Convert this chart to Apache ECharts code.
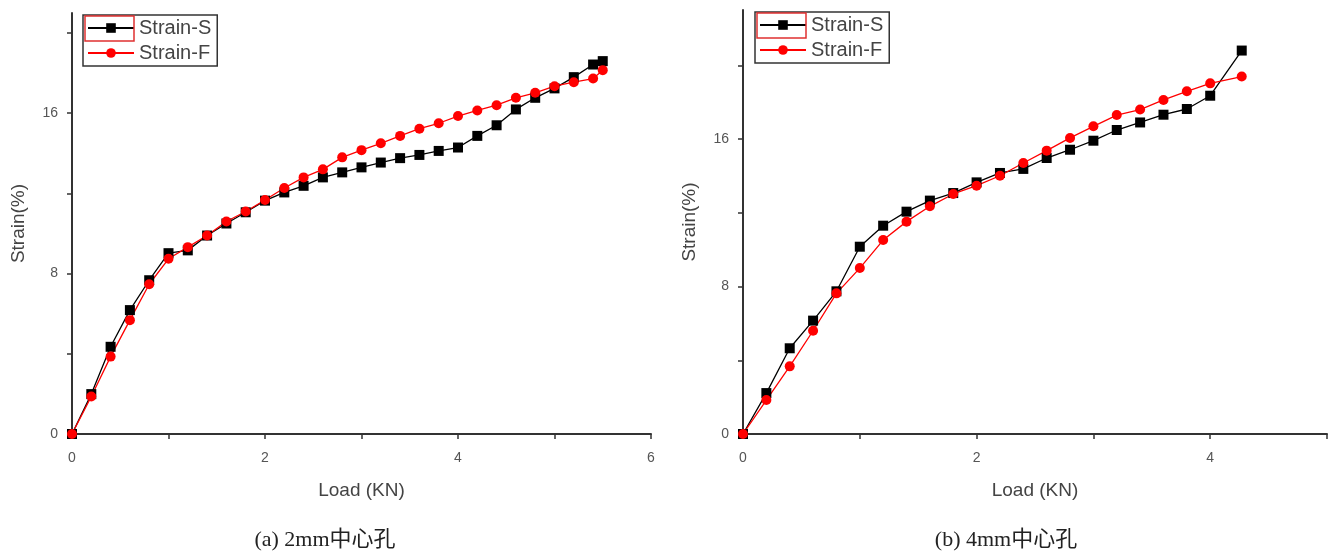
<!DOCTYPE html>
<html>
<head>
<meta charset="utf-8">
<script src="https://cdn.jsdelivr.net/npm/echarts@6/dist/echarts.min.js"></script>
<style>
html,body{margin:0;padding:0;background:#fff;}
#c{width:1335px;height:552px;}
</style>
</head>
<body>
<div id="c"></div>
<script>
// Panel (a) 2mm center hole
const loadA = [0,0.2,0.4,0.6,0.8,1.0,1.2,1.4,1.6,1.8,2.0,2.2,2.4,2.6,2.8,3.0,3.2,3.4,3.6,3.8,4.0,4.2,4.4,4.6,4.8,5.0,5.2,5.4,5.5];
const strainS_A = [0,1.99,4.35,6.18,7.67,9.02,9.16,9.9,10.5,11.06,11.64,12.05,12.38,12.8,13.05,13.3,13.54,13.76,13.92,14.12,14.29,14.87,15.4,16.19,16.77,17.24,17.8,18.43,18.6];
const strainF_A = [0,1.87,3.86,5.68,7.47,8.74,9.32,9.9,10.6,11.1,11.67,12.27,12.8,13.2,13.8,14.16,14.5,14.87,15.23,15.5,15.86,16.14,16.4,16.77,17.02,17.35,17.55,17.73,18.15];
// Panel (b) 4mm center hole
const loadB = [0,0.2,0.4,0.6,0.8,1.0,1.2,1.4,1.6,1.8,2.0,2.2,2.4,2.6,2.8,3.0,3.2,3.4,3.6,3.8,4.0,4.27];
const strainS_B = [0,2.22,4.65,6.15,7.74,10.16,11.3,12.06,12.66,13.07,13.65,14.16,14.38,14.97,15.42,15.91,16.49,16.9,17.32,17.63,18.35,20.8];
const strainF_B = [0,1.84,3.67,5.6,7.63,9.0,10.52,11.52,12.35,13.02,13.47,14.01,14.7,15.37,16.06,16.69,17.3,17.6,18.12,18.59,19.02,19.39];

const xTicksA = [0,1,2,3,4,5,6];
const xLabelsA = [0,2,4,6];
const xTicksB = [0,1,2,3,4,5];
const xLabelsB = [0,2,4];
const yTicks = [0,4,8,12,16,20];
const yLabels = [0,8,16];

const seriesNames = ['Strain-S','Strain-F'];
const captions = ['(a) 2mm中心孔','(b) 4mm中心孔'];
const xName = 'Load (KN)';
const yName = 'Strain(%)';

const pair = (xs, ys) => xs.map((x, i) => [x, ys[i]]);

const chart = echarts.init(document.getElementById('c'));
const axisCol = '#333';
const labelStyle = {color:'#555', fontSize:14, fontFamily:'Arial, "Liberation Sans", sans-serif'};
const nameStyle = {color:'#444', fontSize:19, fontFamily:'Arial, "Liberation Sans", sans-serif'};

function xAxis(grid, max, ticks, labels){
  return {
    type:'value', gridIndex:grid, min:0, max:max, interval:1,
    name:xName, nameLocation:'middle', nameGap:47, nameTextStyle:nameStyle,
    axisLine:{show:true, onZero:false, lineStyle:{color:axisCol, width:2}},
    axisTick:{show:true, length:5, customValues:ticks, lineStyle:{color:axisCol, width:1.5}},
    axisLabel:Object.assign({margin:17, customValues:labels}, labelStyle),
    splitLine:{show:false}
  };
}
function yAxis(grid, max){
  return {
    type:'value', gridIndex:grid, min:0, max:max, interval:4,
    name:yName, nameLocation:'middle', nameGap:44, nameTextStyle:nameStyle,
    axisLine:{show:true, onZero:false, lineStyle:{color:axisCol, width:2}},
    axisTick:{show:true, length:5, customValues:yTicks, lineStyle:{color:axisCol, width:1.5}},
    axisLabel:Object.assign({margin:14, customValues:yLabels}, labelStyle),
    splitLine:{show:false}
  };
}
function legend(grid, left, top){
  return {
    orient:'vertical', left:left, top:top,
    data:seriesNames.map(n => ({name:n})),
    itemWidth:46, itemHeight:12, itemGap:5,
    padding:[3,6,3,4],
    borderColor:'#333', borderWidth:1.5,
    textStyle:{color:'#444', fontSize:20, fontFamily:'Arial, "Liberation Sans", sans-serif'},
    selectedMode:false
  };
}
function mkSeries(name, grid, data, color, symbol){
  return {
    name:name, type:'line', xAxisIndex:grid, yAxisIndex:grid,
    data:data, symbol:symbol, symbolSize:10,
    lineStyle:{color:color, width:1.3},
    itemStyle:{color:color},
    animation:false
  };
}

chart.setOption({
  animation:false,
  grid:[
    {left:72, top:13, width:579, bottom:118},
    {left:743, top:10, width:584, bottom:118}
  ],
  xAxis:[xAxis(0, 6, xTicksA, xLabelsA), xAxis(1, 5, xTicksB, xLabelsB)],
  yAxis:[yAxis(0, 21), yAxis(1, 23)],
  legend:[legend(0, 83, 15), legend(1, 755, 12)],
  series:[
    mkSeries(seriesNames[0], 0, pair(loadA, strainS_A), '#000', 'rect'),
    mkSeries(seriesNames[1], 0, pair(loadA, strainF_A), '#ff0000', 'circle'),
    mkSeries(seriesNames[0], 1, pair(loadB, strainS_B), '#000', 'rect'),
    mkSeries(seriesNames[1], 1, pair(loadB, strainF_B), '#ff0000', 'circle')
  ],
  graphic:[
    {type:'rect', shape:{x:85, y:16, width:49, height:25}, style:{fill:'none', stroke:'#e03030', lineWidth:1.5}, z:100},
    {type:'rect', shape:{x:757, y:13, width:49, height:25}, style:{fill:'none', stroke:'#e03030', lineWidth:1.5}, z:100},
    {type:'text', x:325, y:540, style:{text:captions[0], textAlign:'center', textVerticalAlign:'middle', fill:'#222', font:'22px "Liberation Serif", "Noto Sans CJK SC", serif'}},
    {type:'text', x:1006, y:540, style:{text:captions[1], textAlign:'center', textVerticalAlign:'middle', fill:'#222', font:'22px "Liberation Serif", "Noto Sans CJK SC", serif'}}
  ]
});
</script>
</body>
</html>
